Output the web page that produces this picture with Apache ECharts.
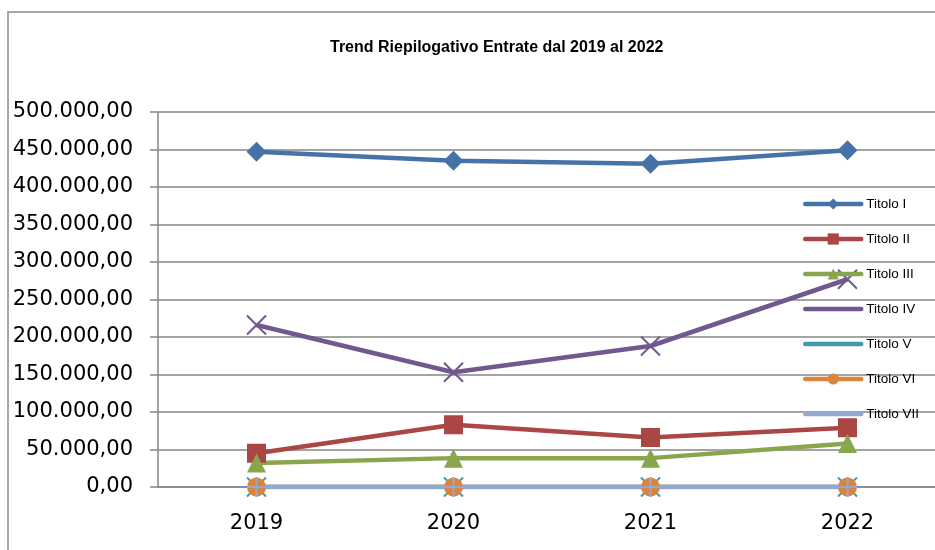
<!DOCTYPE html>
<html>
<head>
<meta charset="utf-8">
<script src="https://cdn.jsdelivr.net/npm/echarts@6/dist/echarts.min.js"></script>
<style>
  html, body { margin: 0; padding: 0; background: #fff; }
  #chart { width: 935px; height: 550px; }
</style>
</head>
<body>
<div id="chart"></div>
<script>
// dati
const years = ["2019", "2020", "2021", "2022"];
const titoloI = [447000, 435000, 431000, 449000];
const titoloII = [45000, 83000, 66000, 79000];
const titoloIII = [32000, 38500, 38500, 58000];
const titoloIV = [216000, 153000, 188000, 277000];
const titoloV = [0, 0, 0, 0];
const titoloVI = [0, 0, 0, 0];
const titoloVII = [0, 0, 0, 0];

const seriesDefs = [
  { name: "Titolo I", data: titoloI, color: "#4572A7", symbol: "diamond" },
  { name: "Titolo II", data: titoloII, color: "#AA4643", symbol: "rect" },
  { name: "Titolo III", data: titoloIII, color: "#89A54E", symbol: "triangle" },
  { name: "Titolo IV", data: titoloIV, color: "#71588F", symbol: "path://M0,0L20,20M20,0L0,20", stroke: true },
  { name: "Titolo V", data: titoloV, color: "#4198AF", symbol: "path://M0,0L20,20M20,0L0,20M10,0L10,20", stroke: true },
  { name: "Titolo VI", data: titoloVI, color: "#DB843D", symbol: "circle" },
  { name: "Titolo VII", data: titoloVII, color: "#93A9CF", symbol: "path://M10,0L10,20M0,10L20,10", stroke: true }
];

const titleText = "Trend Riepilogativo Entrate dal 2019 al 2022";
const titleFont = "bold 16px 'Liberation Sans'";

function formatIt(v) {
  const s = Math.round(v).toString().replace(/\B(?=(\d{3})+(?!\d))/g, ".");
  return s + ",00";
}

// centro del titolo a x=492
const ctx = document.createElement("canvas").getContext("2d");
ctx.font = titleFont;
const titleLeft = Math.round(492 - ctx.measureText(titleText).width / 2);

const chart = echarts.init(document.getElementById("chart"));

chart.setOption({
  animation: false,
  backgroundColor: "#fff",
  graphic: [{
    type: "rect",
    shape: { x: 8, y: 12, width: 1000, height: 1000 },
    style: { fill: "none", stroke: "#8c8c8c", lineWidth: 1.5 },
    silent: true,
    z: -10
  }],
  title: {
    text: titleText,
    left: titleLeft,
    top: 35,
    textStyle: {
      fontFamily: "Liberation Sans",
      fontSize: 16,
      fontWeight: "bold",
      color: "#000"
    }
  },
  legend: {
    orient: "vertical",
    left: 798,
    top: 192,
    itemWidth: 56,
    itemHeight: 14,
    itemGap: 21,
    itemStyle: { borderWidth: 0 },
    lineStyle: { width: 4.5, cap: "round" },
    textStyle: { fontFamily: "Liberation Sans", fontSize: 13.5, color: "#000" },
    data: seriesDefs.map(s => s.name)
  },
  grid: { left: 158, width: 788, top: 112, bottom: 63, outerBoundsMode: "none" },
  xAxis: {
    type: "category",
    data: years,
    boundaryGap: true,
    axisLine: { lineStyle: { color: "#868686", width: 1.5 } },
    axisTick: { length: 7, interval: 0, lineStyle: { color: "#868686", width: 1.5 } },
    axisLabel: { margin: 26, fontFamily: "DejaVu Sans", fontSize: 21, color: "#000" }
  },
  yAxis: {
    type: "value",
    min: 0,
    max: 500000,
    interval: 50000,
    axisLine: { show: true, lineStyle: { color: "#868686", width: 1.5 } },
    axisTick: { show: true, length: 8, lineStyle: { color: "#868686", width: 1.5 } },
    splitLine: { lineStyle: { color: "#868686", width: 1.5 } },
    axisLabel: {
      margin: 25,
      fontFamily: "DejaVu Sans",
      fontSize: 21,
      color: "#000",
      formatter: formatIt
    }
  },
  series: seriesDefs.map(s => ({
    name: s.name,
    type: "line",
    data: s.data,
    symbol: s.symbol,
    symbolSize: s.symbol === "diamond" ? 20 : 19,
    showAllSymbol: true,
    lineStyle: { color: s.color, width: 4.5 },
    itemStyle: s.stroke
      ? { color: s.color, borderColor: s.color, borderWidth: 2 }
      : { color: s.color, borderWidth: 0 },
    emphasis: { disabled: true }
  }))
});
</script>
</body>
</html>
